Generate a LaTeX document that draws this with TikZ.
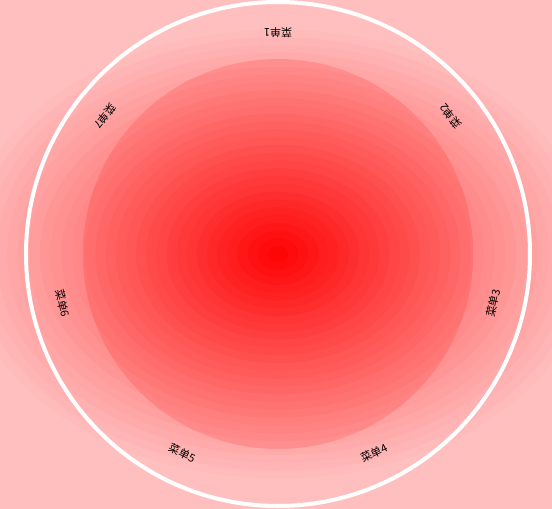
\documentclass[tikz,border=0pt]{standalone}
\usepackage{fontspec}
\newfontfamily\cjk{Noto Sans CJK SC}
\usepackage{tikz}
\usetikzlibrary{positioning}

\begin{document}
\begin{tikzpicture}[x=1pt, y=1pt,
    menu/.style={font=\cjk\fontsize{11}{13}\selectfont, inner sep=0pt, text=black},
    ring/.style={draw=white, line width=4pt}]
\useasboundingbox (-278,-255) rectangle (274,254);
% background glow
\fill[red!25!white] (-278,-255) rectangle (274,254);
\foreach \i in {0,...,29} {
  \pgfmathsetmacro\rad{232*(1-\i/30)}
  \pgfmathsetmacro\pct{25+60*\i/30}
  \fill[red!\pct!white] (0,0) ellipse [x radius=1.4*\rad, y radius=\rad];
}
% inner disc
\begin{scope}
  \clip (0,0) circle (195);
  \foreach \i in {0,...,24} {
    \pgfmathsetmacro\rad{195*(1-\i/25)}
    \pgfmathsetmacro\pct{44+56*\i/25}
    \fill[red!\pct!white] (0,0) ellipse [x radius=1.3*\rad, y radius=\rad];
  }
\end{scope}
\draw[ring] (0,0) circle (252);
% menu labels
\foreach \n in {1,...,7} {
  \pgfmathsetmacro\ang{90-(\n-1)*360/7}
  \node[menu, rotate=\ang+90] (m\n) at (\ang:221) {菜单\n};
}
\end{tikzpicture}
\end{document}
